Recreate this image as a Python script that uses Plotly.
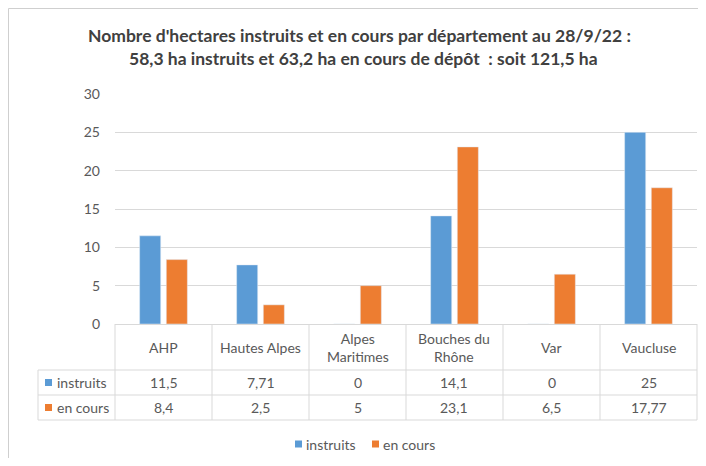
import plotly.graph_objects as go

# ---------------- data ----------------
categories = ["AHP", "Hautes Alpes", "Alpes Maritimes", "Bouches du Rhône", "Var", "Vaucluse"]
header_labels = ["AHP", "Hautes Alpes", "Alpes<br>Maritimes", "Bouches du<br>Rhône", "Var", "Vaucluse"]
instruits = [11.5, 7.71, 0, 14.1, 0, 25]
en_cours = [8.4, 2.5, 5, 23.1, 6.5, 17.77]
series_names = ["instruits", "en cours"]
title_line1 = "Nombre d'hectares instruits et en cours par département au 28/9/22 :"
title_line2 = "58,3 ha instruits et 63,2 ha en cours de dépôt  : soit 121,5 ha"

# ---------------- style ----------------
BLUE = "#5B9BD5"
ORANGE = "#ED7D31"
GRID = "#d9d9d9"
TXT = "#595959"
FONT = "Lato, Liberation Sans, Arial"

OFF = 8                      # page body margin
W, H = 698, 450              # figure size
# plot area in page pixels
L, R, T, B = 115, 697, 94, 324
PW, PH = R - L, B - T


def px(x):
    return (x - L) / PW


def py(y):
    return (B - y) / PH


def fmt(v):
    return f"{v:g}".replace(".", ",")


fig = go.Figure()
fig.add_trace(go.Bar(name=series_names[0], x=categories, y=instruits, marker_color=BLUE))
fig.add_trace(go.Bar(name=series_names[1], x=categories, y=en_cours, marker_color=ORANGE))

shapes = []
annotations = []

# frame: top and left border lines at the figure edge
shapes.append(dict(type="line", xref="paper", yref="paper",
                   x0=px(8.5), x1=px(720), y0=py(8.5), y1=py(8.5),
                   line=dict(color="#cfcfcf", width=1)))
shapes.append(dict(type="line", xref="paper", yref="paper",
                   x0=px(8.5), x1=px(8.5), y0=py(8.5), y1=py(480),
                   line=dict(color="#cfcfcf", width=1)))

n = len(categories)
col_w = 1.0 / n
y_hdr_bot = py(370)
y_row1_bot = py(395)
y_row2_bot = py(420)
x_lab = px(38)
TFONT = dict(family=FONT, size=14, color=TXT)

# table lines
for i in range(n + 1):
    shapes.append(dict(type="line", xref="paper", yref="paper",
                       x0=i * col_w, x1=i * col_w, y0=0, y1=y_row2_bot,
                       line=dict(color=GRID, width=1)))
shapes.append(dict(type="line", xref="paper", yref="paper",
                   x0=x_lab, x1=x_lab, y0=y_hdr_bot, y1=y_row2_bot,
                   line=dict(color=GRID, width=1)))
for yy in (y_hdr_bot, y_row1_bot, y_row2_bot):
    shapes.append(dict(type="line", xref="paper", yref="paper",
                       x0=x_lab, x1=1, y0=yy, y1=yy,
                       line=dict(color=GRID, width=1)))

# header + values
for i in range(n):
    cx = (i + 0.5) * col_w
    annotations.append(dict(xref="paper", yref="paper", x=cx, y=(0 + y_hdr_bot) / 2,
                            xanchor="center", yanchor="middle", align="center",
                            text=header_labels[i], showarrow=False, font=TFONT))
    annotations.append(dict(xref="paper", yref="paper", x=cx, y=(y_hdr_bot + y_row1_bot) / 2,
                            xanchor="center", yanchor="middle",
                            text=fmt(instruits[i]), showarrow=False, font=TFONT))
    annotations.append(dict(xref="paper", yref="paper", x=cx, y=(y_row1_bot + y_row2_bot) / 2,
                            xanchor="center", yanchor="middle",
                            text=fmt(en_cours[i]), showarrow=False, font=TFONT))

# row labels with colour keys
for name, color, y0, y1 in ((series_names[0], BLUE, y_hdr_bot, y_row1_bot),
                            (series_names[1], ORANGE, y_row1_bot, y_row2_bot)):
    ym = (y0 + y1) / 2
    shapes.append(dict(type="rect", xref="paper", yref="paper",
                       x0=px(45), x1=px(52), y0=ym - 3.5 / PH, y1=ym + 3.5 / PH,
                       fillcolor=color, line=dict(width=0)))
    annotations.append(dict(xref="paper", yref="paper", x=px(55), y=ym,
                            xanchor="left", yanchor="middle",
                            text=name, showarrow=False, font=TFONT))

# bottom legend (drawn manually to match compact spacing)
leg_y = py(444)
for name, color, sx in ((series_names[0], BLUE, 295), (series_names[1], ORANGE, 372)):
    shapes.append(dict(type="rect", xref="paper", yref="paper",
                       x0=px(sx), x1=px(sx + 7), y0=leg_y - 3.5 / PH, y1=leg_y + 3.5 / PH,
                       fillcolor=color, line=dict(width=0)))
    annotations.append(dict(xref="paper", yref="paper", x=px(sx + 9), y=leg_y,
                            xanchor="left", yanchor="middle",
                            text=name, showarrow=False, font=TFONT))

# title lines
for txt, xx, yy in ((title_line1, 359, 36), (title_line2, 363, 58)):
    annotations.append(dict(xref="paper", yref="paper", x=px(xx), y=py(yy),
                            xanchor="center", yanchor="middle",
                            text=f"<b>{txt}</b>", showarrow=False,
                            font=dict(family=FONT, size=17.5, color="#404040")))

fig.update_layout(
    width=W, height=H, autosize=False,
    margin=dict(l=L - OFF, r=W - (R - OFF), t=T - OFF, b=H - (B - OFF), pad=0),
    paper_bgcolor="white",
    plot_bgcolor="white",
    barmode="group", bargap=0.45, bargroupgap=0.21,
    xaxis=dict(showticklabels=False, showgrid=False, showline=True,
               linecolor=GRID, linewidth=1, ticks="", fixedrange=True),
    yaxis=dict(range=[0, 30], dtick=5, showgrid=True, gridcolor=GRID,
               zeroline=False, showline=False, ticks="", ticklabelstandoff=14,
               tickfont=dict(family=FONT, size=14, color=TXT)),
    shapes=shapes,
    annotations=annotations,
    showlegend=False,
)

fig.write_html("out.html")
